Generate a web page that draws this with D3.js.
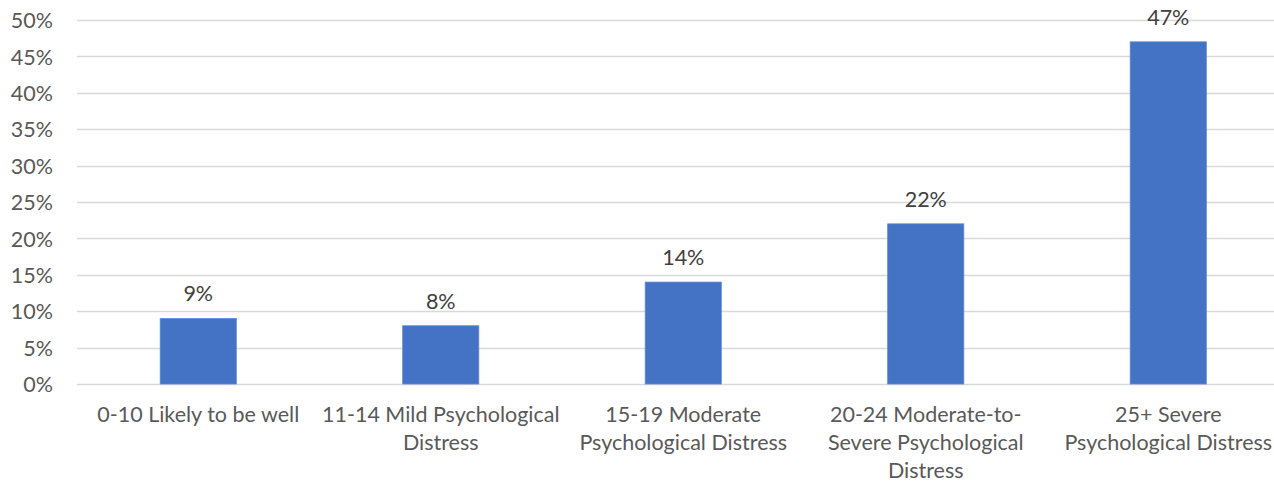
<!DOCTYPE html>
<html>
<head>
<meta charset="utf-8">
<script src="https://cdn.jsdelivr.net/npm/d3@7"></script>
<style>
  html, body { margin: 0; padding: 0; background: #fff; }
  svg { display: block; font-family: Lato, "Open Sans", sans-serif; }
</style>
</head>
<body>
<svg id="chart" width="1274" height="483"></svg>
<script>
// K10 score bands and the share of respondents in each
const categories = [
  ["0-10 Likely to be well"],
  ["11-14 Mild Psychological", "Distress"],
  ["15-19 Moderate", "Psychological Distress"],
  ["20-24 Moderate-to-", "Severe Psychological", "Distress"],
  ["25+ Severe", "Psychological Distress"]
];
const values = [9, 8, 14, 22, 47];
const yTicks = [0, 5, 10, 15, 20, 25, 30, 35, 40, 45, 50];

const W = 1274, H = 483;
const plot = { left: 77, top: 20, bottom: 384, right: 1289.5 };
const FONT = "Lato, 'Open Sans', sans-serif";
const FS = "21.5px";

const svg = d3.select("#chart");

const x = d3.scaleBand()
  .domain(d3.range(categories.length))
  .range([plot.left, plot.right])
  .paddingInner(0.686)
  .paddingOuter(0.343);

const y = d3.scaleLinear().domain([0, 50]).range([plot.bottom, plot.top]);

// horizontal gridlines
svg.append("g")
  .selectAll("line")
  .data(yTicks)
  .join("line")
  .attr("x1", plot.left)
  .attr("x2", W)
  .attr("y1", d => Math.round(y(d)) + 0.5)
  .attr("y2", d => Math.round(y(d)) + 0.5)
  .attr("stroke", "#d9d9d9")
  .attr("stroke-width", 1.3);

// y-axis labels
const yAxis = d3.axisLeft(y).tickValues(yTicks).tickFormat(d => d + "%").tickSize(0).tickPadding(0);
const yg = svg.append("g").attr("transform", `translate(53,0)`).call(yAxis);
yg.select(".domain").remove();
yg.selectAll("text")
  .attr("fill", "#595959")
  .attr("dy", "0.36em")
  .style("font-size", FS)
  .style("font-family", FONT);

// bars
svg.append("g")
  .selectAll("rect")
  .data(values)
  .join("rect")
  .attr("x", (d, i) => x(i))
  .attr("y", d => y(d))
  .attr("width", x.bandwidth())
  .attr("height", d => y(0) - y(d))
  .attr("fill", "#4472c4")
  .attr("stroke", "#5b8ad6")
  .attr("stroke-width", 0.8);

// value labels
svg.append("g")
  .selectAll("text")
  .data(values)
  .join("text")
  .attr("x", (d, i) => x(i) + x.bandwidth() / 2)
  .attr("y", d => y(d) - 17)
  .attr("text-anchor", "middle")
  .attr("fill", "#404040")
  .style("font-size", FS)
  .text(d => d + "%");

// category labels
const cat = svg.append("g")
  .selectAll("text")
  .data(categories)
  .join("text")
  .attr("x", (d, i) => x(i) + x.bandwidth() / 2)
  .attr("y", 422)
  .attr("text-anchor", "middle")
  .attr("fill", "#595959")
  .style("font-size", FS);
cat.selectAll("tspan")
  .data(d => d)
  .join("tspan")
  .attr("x", function () { return d3.select(this.parentNode).attr("x"); })
  .attr("dy", (d, i) => i === 0 ? 0 : 28)
  .text(d => d);
</script>
</body>
</html>
